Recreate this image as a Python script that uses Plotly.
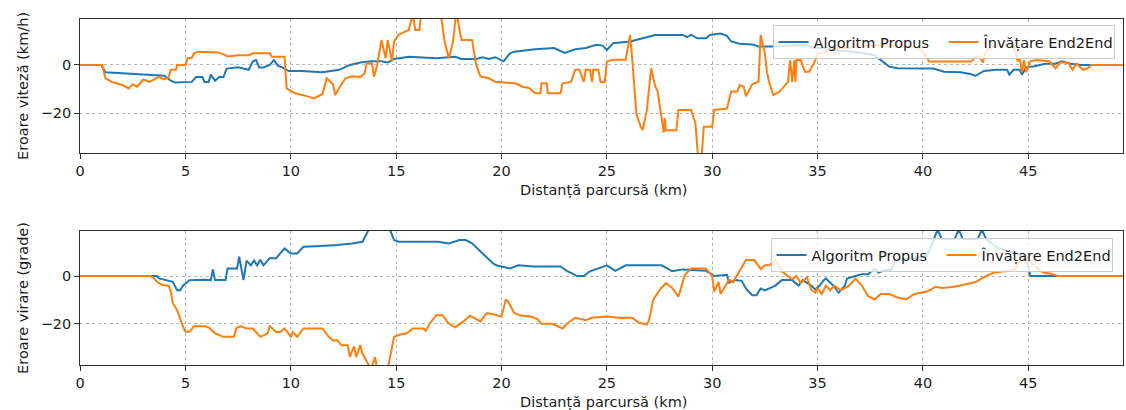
import plotly.graph_objects as go

# ---- speed error (km/h) vs distance travelled (km) ----
speed_prop_km = [0, 1.0, 1.2, 2.0, 3.0, 4.0, 4.3, 4.5, 5.3, 5.5, 5.8, 5.9, 6.1, 6.2, 6.4, 6.6, 6.8, 6.95,
                 7.5, 8.0, 8.2, 8.35, 8.5, 8.7, 9.0, 9.2, 9.4, 9.6, 9.9, 10.5, 11.5, 12.3, 12.8, 13.3, 13.8,
                 14.3, 14.6, 14.9, 15.6, 16.9, 17.8, 18.1, 18.8, 19.1, 19.4, 19.7, 20.1, 20.4, 20.6, 21.6,
                 22.5, 23.0, 23.5, 24.0, 24.5, 24.8, 25.0, 25.3, 26.1, 27.3, 28.6, 28.8, 29.0, 29.3, 29.7,
                 29.9, 30.4, 30.7, 30.9, 31.3, 31.9, 32.2, 32.8, 33.5, 34.4, 34.8, 35.3, 36.0, 36.6, 37.1,
                 37.7, 38.1, 38.4, 38.8, 40.5, 41.0, 41.8, 42.3, 42.5, 42.9, 43.5, 44.0, 44.1, 44.3, 44.6,
                 44.7, 44.9, 45.3, 45.8, 46.3, 46.6, 47.0, 47.5, 48.0, 49.5]
speed_prop_err = [0, 0, -3, -3.5, -4, -4.5, -6.5, -7.3, -7, -5, -5, -7, -7, -4, -6.5, -5, -5, -1.5,
                  -1, -2, 1.5, 2, -1, -1, 0, 2, -0.5, -1, -2.5, -2.5, -3, -2, 0, 1, 1.5,
                  1.5, 1, 2.5, 3.4, 2.8, 3.4, 2.5, 2.5, 3.2, 2.5, 3.2, 1.5, 4.8, 5.5, 6.5,
                  7, 5, 6.5, 7, 8.3, 8, 6.2, 9, 9.7, 12.4, 12.4, 11.5, 12.4, 11, 11,
                  12.4, 13, 12, 9.7, 8.8, 8.5, 7.6, 7.6, 8, 8.3, 7, 7, 6, 5.5, 5,
                  4, 1.5, -0.7, -1.4, -1.5, -2.8, -3, -3.8, -4.5, -2.5, -2, -2, -4, -2, -2,
                  -4, -1, -0.5, 0.5, 0.5, 1.5, 0.5, 0, 0, 0]

speed_e2e_km = [0, 1.05, 1.2, 1.5, 2.0, 2.3, 2.5, 2.7, 3.0, 3.3, 3.7, 4.0, 4.2, 4.3, 4.55, 4.6, 5.0, 5.1,
                5.3, 5.4, 5.6, 6.5, 6.8, 7.0, 7.5, 8.0, 8.2, 9.0, 9.1, 9.7, 9.8, 10.2, 10.8, 11.1, 11.5,
                11.7, 12.0, 12.1, 12.4, 12.6, 12.9, 13.3, 13.5, 13.6, 13.85, 13.95, 14.1, 14.3, 14.5,
                14.6, 14.8, 14.9, 15.1, 15.6, 15.8, 15.9, 16.1, 16.2, 17.1, 17.3, 17.5, 17.7, 17.85,
                18.1, 18.6, 18.8, 19.0, 19.4, 19.7, 20.1, 20.7, 21.0, 21.3, 21.6, 21.85, 21.9, 22.15,
                22.2, 22.8, 22.9, 23.3, 23.5, 23.7, 23.9, 24.0, 24.2, 24.3, 24.35, 24.6, 24.7, 24.9,
                25.0, 25.3, 25.9, 26.1, 26.2, 26.4, 26.6, 26.7, 26.9, 27.1, 27.3, 27.4, 27.6, 27.7,
                27.75, 27.8, 28.3, 28.4, 29.0, 29.2, 29.35, 29.5, 29.6, 30.0, 30.1, 30.7, 30.9, 31.2,
                31.3, 31.5, 31.6, 31.9, 32.2, 32.3, 32.5, 32.6, 32.7, 32.9, 33.2, 33.5, 33.6, 33.7,
                33.8, 33.9, 33.95, 34.0, 34.2, 34.4, 34.6, 34.9, 35.0, 35.2, 35.5, 36.0, 36.5, 37.0,
                38.0, 39.0, 39.8, 40.0, 40.3, 42.3, 42.5, 42.7, 42.85, 43.0, 43.5, 44.3, 44.5, 44.6,
                44.7, 44.8, 44.9, 45.1, 45.4, 46.0, 46.3, 46.5, 46.9, 47.1, 47.3, 47.6, 47.8, 48.0, 49.5]
speed_e2e_err = [0, 0, -5.5, -7, -8.3, -9.7, -8, -9, -6, -7, -5, -6, -5, -2, -2, 0, 0, 2.8,
                 3, 4.8, 5.5, 5.2, 4.5, 3.5, 4, 4, 4.8, 4.8, 3.4, 3.4, -9.7, -11.7, -13, -13.8, -12,
                 -5.5, -8, -12.4, -8, -5.5, -4.7, -5, -3.5, 0.7, 0.7, -4.9, 0, 10.3, 2.8,
                 10.3, 1.5, 9.7, 12.4, 14.5, 21, 14.5, 14.5, 22, 22, 9.7, 2.8, 9.7, 22,
                 10.3, 10.3, 0, -4.8, -5.5, -6.9, -7.2, -7.7, -9, -9.5, -11.7, -11.7, -7.6, -7.6,
                 -11.7, -11.7, -7.6, -7, -2, -2, -7, -2, -2, -7, -2, -2, -7, -7,
                 1.4, 2.2, 2.2, 12.4, 2.8, -20, -25.5, -26.9, -18.6, -1.4, -9, -10.5, -22, -28,
                 -22, -27, -27, -18.6, -18.6, -24, -40, -38, -25.5, -25.5, -18.6, -18, -11, -11,
                 -8.3, -9, -13, -8, -6.9, 12.4, 4.8, -3, -7, -12.4, -11, -8, -7, 2,
                 -7, 2, -7, 2, 2, -2.8, -2.8, 2, 4.8, 5, 6, 7, 7, 8,
                 8, 8, 7, 5.5, 1.4, 1.4, 3.4, 3.4, 1, 6, 8, 8, 1.5, 3,
                 -3, 2, -3, 1.5, 2, 1.5, -1.4, 1, 1, -2, 0.5, -2, -1.5, 0, 0]

# ---- steering error (degrees) vs distance travelled (km) ----
steer_prop_km = [0, 3.65, 3.75, 4.1, 4.4, 4.6, 4.75, 4.9, 5.2, 5.9, 6.2, 6.3, 6.4, 6.9, 7.0, 7.45, 7.55,
                 7.65, 7.75, 7.9, 8.1, 8.25, 8.4, 8.55, 8.7, 9.0, 9.3, 9.7, 10.0, 10.3, 10.6, 11.2, 12.2,
                 12.9, 13.4, 13.7, 14.7, 14.9, 15.1, 17.0, 17.5, 18.0, 18.3, 18.6, 19.1, 19.6, 19.75,
                 20.4, 20.8, 21.5, 22.8, 23.1, 23.6, 23.9, 24.2, 25.0, 25.4, 25.9, 27.6, 28.1, 28.6,
                 29.7, 30.1, 30.7, 30.8, 31.1, 31.4, 31.6, 31.9, 32.1, 32.3, 32.5, 33.0, 33.3, 33.8,
                 34.1, 34.3, 34.7, 34.9, 35.1, 35.3, 35.4, 35.8, 36.0, 36.3, 36.4, 36.8, 37.1, 37.4,
                 37.7, 37.9, 38.2, 38.5, 38.7, 39.5, 40.2, 40.5, 40.7, 40.9, 41.5, 41.7, 41.9, 42.6,
                 42.8, 43.0, 43.5, 44.2, 44.9, 45.1, 45.3, 49.5]
steer_prop_err = [0, 0, -1, -1.7, -2.4, -5.9, -5.9, -3.8, -1.7, -1.5, -1.7, 2.8, -1.7, -1.7, 3.2, 3.2, 8.1,
                  3.2, -1.7, 6.5, 4.5, 6.5, 4.5, 6.8, 4.5, 7.5, 7.5, 11.6, 9.5, 9.5, 12.3, 12.5, 13,
                  13.7, 14.4, 19.5, 19.5, 15.1, 14.4, 14.4, 13.7, 15.1, 15.1, 13.7, 9.5, 5.3, 4.5,
                  3.2, 4.5, 4, 4, 2.2, 0, 0, 2, 4.5, 2.2, 4.5, 4.5, 2, 2.8,
                  2.2, 0, 0.5, -2.8, -1.7, -2, -5.2, -8, -8, -5.2, -6, -4, -1.7, -1.7,
                  -4, -1.7, -4, -5.6, -4, -1.7, -1, -4.5, -7, -4, -1, 0, 0.8, 0.8,
                  3.2, 1.5, 2.5, 2.5, 7, 7.5, 8.5, 15, 19.5, 15.5, 15.5, 19.5, 15.5, 15.5,
                  19.5, 15.5, 12, 10, 8, 0, 0, 0]

steer_e2e_km = [0, 3.35, 3.5, 3.65, 3.9, 4.2, 4.3, 4.4, 4.6, 4.85, 5.0, 5.2, 5.4, 5.9, 6.1, 6.4, 6.8,
                7.3, 7.4, 7.6, 7.9, 8.2, 8.55, 8.9, 9.0, 9.3, 9.5, 9.7, 10.0, 10.1, 10.3, 10.6, 11.5,
                11.8, 12.0, 12.2, 12.4, 12.7, 12.8, 13.0, 13.1, 13.3, 13.4, 13.6, 13.8, 14.0, 14.1,
                14.6, 14.9, 15.2, 15.5, 15.8, 16.3, 16.4, 16.6, 16.9, 17.2, 17.5, 17.8, 18.2, 18.5,
                19.0, 19.3, 19.6, 20.0, 20.2, 20.3, 20.6, 20.9, 21.4, 21.7, 21.9, 22.4, 22.9, 23.1,
                23.5, 24.0, 24.3, 25.0, 25.6, 26.2, 26.5, 26.9, 27.0, 27.2, 27.5, 27.8, 28.1, 28.4,
                28.7, 29.0, 29.7, 30.0, 30.1, 30.3, 30.4, 30.7, 30.8, 31.0, 31.3, 31.6, 32.0, 32.3,
                32.5, 32.7, 33.0, 33.3, 33.8, 34.0, 34.2, 34.5, 34.7, 34.9, 35.0, 35.2, 35.4, 35.6,
                35.8, 36.1, 36.5, 36.8, 37.1, 37.4, 37.7, 38.0, 38.4, 38.8, 39.2, 39.6, 39.9, 40.2,
                40.6, 40.9, 41.5, 41.9, 42.5, 42.8, 43.1, 43.4, 43.9, 44.4, 44.6, 44.9, 45.1, 45.5,
                45.7, 46.1, 46.4, 49.5]
steer_e2e_err = [0, 0, -1, -2.4, -3.8, -4, -6.5, -11.5, -14.3, -20.6, -23.4, -23.4, -21, -21, -21.5, -24, -25.5,
                 -25.5, -22, -21, -22, -22, -25.5, -24, -21, -23.5, -23.5, -22, -25.5, -23.5, -25.5, -22, -22,
                 -25.5, -27, -26.9, -29, -29, -33.9, -29.5, -33.9, -29, -32.5, -35.5, -39, -34, -39,
                 -39, -25.5, -24.5, -24, -22, -22, -23, -19.9, -16.4, -16.4, -20, -21.5, -19, -16.6,
                 -19, -15.5, -16, -17, -10, -10.5, -15.5, -16.5, -17, -18, -20, -20, -22, -20,
                 -17.5, -18.5, -17.5, -17, -17.5, -17.5, -19.5, -20.4, -18.5, -10, -5.9, -3, -5, -8.6,
                 0.4, 3.2, 3.2, 0, -6.5, -2.5, -7.5, -2.5, -1.5, -2.5, 2, 6.7, 6.7, 3,
                 4.5, 4.5, 6.7, 2, -1.4, 0, -3, -0.5, -5.6, -7, -5, -7.5, -4, -6,
                 -4, -6, -4, -1, -4, -8.4, -9.8, -7.5, -7.5, -9, -9.8, -7.5, -7, -6.5,
                 -4.5, -5, -4.5, -3.8, -2.5, -1, 0.5, 1.5, 2, 3, 6.7, 8.5, 6, 3,
                 1.5, 1, 0, 0]

series_names = ["Algoritm Propus", "Învățare End2End"]
series_colors = ["#1f77b4", "#ff7f0e"]
x_ticks = [0, 5, 10, 15, 20, 25, 30, 35, 40, 45]
y_ticks = [-20, 0]
x_title = "Distanță parcursă (km)"
y_titles = ["Eroare viteză (km/h)", "Eroare virare (grade)"]

W, H = 1126, 410
FONT = "DejaVu Sans"
FS = 14.5
TXT = "#1c1c1c"

fig = go.Figure()
panels = [
    ("x", "y", "legend", speed_prop_km, speed_prop_err, speed_e2e_km, speed_e2e_err),
    ("x2", "y2", "legend2", steer_prop_km, steer_prop_err, steer_e2e_km, steer_e2e_err),
]
for xa, ya, lg, xk1, ye1, xk2, ye2 in panels:
    for name, color, xs, ys in zip(series_names, series_colors, [xk1, xk2], [ye1, ye2]):
        fig.add_trace(go.Scatter(x=xs, y=ys, mode="lines", name=name, xaxis=xa, yaxis=ya,
                                 legend=lg, line=dict(color=color, width=2)))

def px_x(p):
    return p / W

def px_y(p):
    return 1 - p / H

axis_common = dict(
    showline=True, mirror=True, linecolor="#2e2e2e", linewidth=1,
    showgrid=True, gridcolor="#b8b8b8", gridwidth=1, griddash="3px,3px",
    zeroline=False, ticks="outside", ticklen=5, tickwidth=1, tickcolor="#2e2e2e",
    tickfont=dict(family=FONT, size=FS, color=TXT),
)

x_dom = [px_x(75.5), px_x(1123)]
top_dom = [px_y(153), px_y(19)]
bot_dom = [px_y(365), px_y(231)]

legend_style = dict(orientation="h", xanchor="left", yanchor="top",
                    bgcolor="rgba(255,255,255,0.8)", bordercolor="#cccccc", borderwidth=1,
                    font=dict(family=FONT, size=FS, color=TXT), entrywidth=125, itemwidth=30)

def label(text, x, y, angle=0):
    return dict(text=text, x=px_x(x), y=px_y(y), xref="paper", yref="paper",
                xanchor="center", yanchor="middle", textangle=angle, showarrow=False,
                font=dict(family=FONT, size=FS, color=TXT))

fig.update_layout(
    width=W, height=H,
    margin=dict(l=0, r=0, t=0, b=0),
    paper_bgcolor="white", plot_bgcolor="white",
    font=dict(family=FONT, size=FS, color=TXT),
    xaxis=dict(domain=x_dom, range=[0, 49.5], tickvals=x_ticks, anchor="y", **axis_common),
    yaxis=dict(domain=top_dom, range=[-36.4, 19], tickvals=y_ticks, anchor="x",
               tickformat="d", **axis_common),
    xaxis2=dict(domain=x_dom, range=[0, 49.5], tickvals=x_ticks, anchor="y2", **axis_common),
    yaxis2=dict(domain=bot_dom, range=[-37.3, 18.9], tickvals=y_ticks, anchor="x2",
                tickformat="d", **axis_common),
    legend=dict(x=px_x(771), y=px_y(25), **legend_style),
    legend2=dict(x=px_x(769), y=px_y(238), **legend_style),
    annotations=[
        label(x_title, 601, 190),
        label(x_title, 601, 402),
        label(y_titles[0], 18, 86, -90),
        label(y_titles[1], 18, 298, -90),
    ],
)

fig.write_html("out.html")
